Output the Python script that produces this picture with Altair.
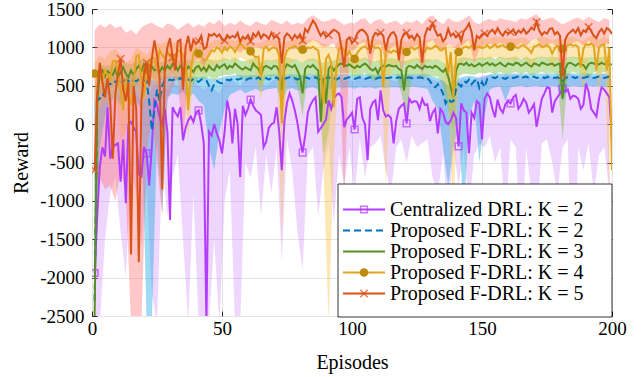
import altair as alt
import pandas as pd

# ---------------- data ----------------
EPISODES = list(range(1, 201))

CENTRALIZED = [
    -1940, -1200, -560, -300, -420, 220, -450, -300, -270, -250,
    -750, -200, -1030, 0, 30, -40, -100, -650, -680, -300,
    -380, -800, -300, 310, 250, 90, 0, 200, -100, -1250,
    220, 150, 100, 220, -210, -50, 50, 100, 30, 150,
    180, 0, -250, -2600, -100, -150, 0, -120, -210, -380,
    -100, 310, 150, -250, 200, 0, -690, 240, 120, 200,
    320, 240, 180, 150, 120, -300, -230, -50, 0, 20,
    220, -100, -600, 40, 280, 400, 310, 180, 20, -200,
    -370, -150, 150, 250, 310, 350, -100, -50, 0, 60,
    310, 200, 330, 380, 400, 350, -40, 60, 100, 150,
    -70, 330, 350, 80, 0, -470, 200, 280, 310, 50,
    440, 180, 100, 120, 80, -250, 40, 200, 240, 270,
    10, 330, 280, 300, 290, 200, 330, 250, 260, 40,
    150, 200, -120, 200, 150, 30, 0, 50, 150, 80,
    -290, 270, 180, 150, -380, 150, 80, 300, 270, -200,
    330, 400, 350, 200, 90, 320, 200, 150, 260, 300,
    270, 350, 380, 200, 250, 330, 280, 150, 200, 260,
    -35, 150, 330, 400, 480, 470, 150, 300, 350, 400,
    465, 420, 450, 330, 370, 360, 330, 200, 250, 530,
    420, 200, 150, 100, 330, 480, 450, 400, 350, -250,
]
FDRL_K2 = [
    -2300, 300, 340, 330, 480, 530, 520, 560, 550, 570,
    540, 560, 580, 560, 590, 570, 560, 580, 590, 570,
    560, 300, -80, 180, 450, 300, 500, 570, 560, 580,
    570, 590, 580, 600, 570, 590, 580, 560, 590, 570,
    550, 580, 590, 570, 500, 440, 520, 560, 540, 530,
    560, 580, 570, 590, 600, 580, 590, 600, 570, 590,
    600, 580, 590, 610, 580, 590, 600, 580, 600, 590,
    610, 580, 560, 590, 600, 610, 590, 600, 580, 600,
    590, 610, 600, 590, 600, 610, 590, 570, 590, 600,
    610, 590, 600, 580, 600, 610, 590, 600, 610, 600,
    590, 600, 610, 600, 590, 600, 610, 600, 590, 600,
    610, 590, 600, 600, 610, 590, 600, 610, 600, 590,
    600, 610, 600, 590, 600, 610, 600, 590, 600, 560,
    500, 480, 520, 470, 400, 270, 330, 290, 300, 450,
    520, 490, 560, 540, 580, 520, 560, 590, 470, 550,
    480, 590, 600, 610, 600, 620, 610, 600, 590, 610,
    620, 600, 610, 620, 600, 610, 620, 600, 610, 620,
    600, 610, 620, 600, 610, 620, 610, 600, 610, 590,
    560, 600, 610, 620, 610, 600, 620, 610, 600, 610,
    620, 610, 600, 610, 620, 610, 600, 610, 620, 610,
]
FDRL_K3 = [
    -2500, 300, 650, 700, 620, 690, 660, 640, 720, 600,
    680, 740, 660, 610, 700, 640, 720, 760, 690, 780,
    730, 790, 750, 700, 720, 680, 740, 700, 760, 720,
    780, 770, 700, 760, 730, 690, 750, 720, 680, 740,
    760, 700, 740, 690, 760, 720, 700, 770, 730, 760,
    780, 720, 760, 740, 790, 760, 730, 710, 740, 720,
    700, 790, 750, 720, 640, 740, 760, 740, 720, 760,
    750, 700, 440, 720, 780, 760, 740, 770, 700, 620,
    400, 720, 760, 740, 770, 730, 700, 30, 600, 270,
    720, 760, 700, 740, 780, 790, 770, 760, 780, 750,
    730, 760, 740, 770, 790, 760, 720, 700, 730, 660,
    740, 760, 750, 770, 760, 750, 760, 720, 700, 440,
    730, 760, 750, 730, 770, 740, 720, 760, 740, 750,
    730, 760, 740, 710, 680, 720, 620, 480, 350, 700,
    780, 790, 770, 800, 760, 780, 750, 770, 790, 760,
    780, 800, 770, 790, 760, 780, 800, 770, 750, 790,
    780, 770, 800, 790, 760, 780, 800, 770, 750, 790,
    780, 760, 800, 790, 770, 780, 790, 760, 780, 790,
    330, 720, 790, 800, 780, 760, 790, 780, 770, 720,
    780, 800, 790, 770, 780, 800, 780, 790, 770, 780,
]
FDRL_K4 = [
    660, 600, 720, 560, 700, 640, 580, 820, 830, 650,
    450, 180, 600, 400, 250, 550, 880, 900, 600, 350,
    710, 780, 870, 860, 700, 960, 900, 850, 950, 880,
    920, 820, 950, 960, 900, 790, 180, 700, 920, 980,
    920, 880, 830, 840, 900, 960, 950, 1000, 980, 930,
    1000, 960, 1010, 990, 940, 1000, 1050, 1020, 980, 1000,
    950, 900, 870, 880, 610, 980, 1010, 960, 990, 1000,
    980, 900, 10, 850, 960, 990, 1000, 1020, 990, 960,
    970, 950, 1000, 990, 1010, 980, 960, 700, 270, 850,
    900, 800, 220, 750, 980, 1000, 960, 900, 950, 880,
    850, 930, 970, 1000, 1010, 980, 1000, 1020, 990, 1000,
    970, 480, 960, 950, 930, 960, 940, 980, 1000, 960,
    940, 980, 1000, 970, 990, 1010, 960, 940, 1000, 980,
    990, 1020, 1000, 960, 980, 990, 660, 940, 350, 880,
    940, 970, 1000, 1010, 990, 1020, 980, 1000, 1010, 990,
    1000, 1030, 990, 1010, 1040, 1000, 1020, 1030, 1000, 1010,
    1010, 1030, 1000, 990, 1020, 1030, 1000, 970, 930, 1010,
    1020, 1040, 1000, 1010, 1030, 1000, 920, 990, 1020, 1000,
    980, 1010, 1030, 1040, 1020, 1030, 1000, 740, 980, 1040,
    1030, 1050, 1020, 700, 1000, 1030, 1040, 700, 1000, -600,
]
FDRL_K5 = [
    -600, 400, 800, 550, 350, 600, 300, -450, 400, 650,
    850, 450, 300, 550, -1700, 500, 200, -1800, 300, 650,
    800, 500, 850, 1090, 900, 600, -850, 750, 1000, 1120,
    870, 700, 1080, 1100, 450, 1000, 1150, 950, 1100, 1050,
    1080, 1150, 980, 1000, 1170, 1150, 1180, 1140, 1170, 1100,
    1090, 1160, 1120, 1150, 1130, 1190, 1070, 1140, 1110, 1160,
    1080, 1180, 1140, 1200, 1120, 1170, 1150, 1110, 1190, 1130,
    1150, 1100, 790, 1130, 1180, 1150, 1100, 1160, 1120, 1170,
    1090, 1240, 1200, 1280, 1350, 1300, 1220, 1150, 1200, 1140,
    1160, 1200, 1230, 1210, 1180, 980, 740, 1100, 1130, 1060,
    1090, 1180, 1220, 1230, 1200, 1150, 920, 1130, 1190, 1170,
    1190, 1150, 960, 1120, 1180, 1200, 1140, 830, 1100, 1180,
    1190, 1120, 1150, 1100, 1170, 1130, 800, 1150, 1250, 1230,
    1310, 1220, 1150, 1170, 1080, 1120, 1240, 1150, 1180, 1130,
    1170, 1080, 1210, 1250, 1310, 1200, 960, 1150, 1120, 1170,
    1180, 1150, 1200, 1230, 1180, 1250, 1190, 1150, 1210, 1180,
    1200, 1230, 1170, 1220, 1190, 1240, 1180, 1210, 1260, 1230,
    1330, 1220, 1160, 1200, 1180, 1240, 1250, 1170, 1200, 1150,
    640, 1100, 1170, 1200, 1230, 1190, 1250, 1160, 1220, 1200,
    1265, 1210, 1150, 1120, 1200, 1240, 1180, 1250, 1230, 1170,
]

# shaded spread bands, read every second episode
BAND_EPISODES = list(range(1, 200, 2))

CENTRALIZED_LO = [
    -2600, -2600, -1500, -900, -700, -1400, -2000, -600, -900, -1600,
    -800, -2200, -2600, -500, -1200, -700, -400, -1500, -2600, -900,
    -2600, -2600, -2600, -1500, -2600, -1000, -600, -2600, -2600, -500,
    -700, -300, -1200, -400, -900, -300, -1800, -200, -600, -1400,
    -1900, -400, -300, -1200, -600, -250, -1300, -400, -800, -300,
    -900, -200, -700, -300, -250, -150, -600, -900, -300, -200,
    -500, -150, -300, -250, -200, -700, -900, -400, -1200, -300,
    -800, -300, -1100, -400, -250, -300, -150, -500, -300, -1200,
    -200, -300, -1600, -300, -900, -1400, -250, -200, -500, -900,
    -300, -200, -2600, -300, -600, -250, -900, -400, -300, -900,
]
CENTRALIZED_HI = [
    -1000, 200, 500, 400, 300, 400, 200, 450, 400, 300,
    350, 450, 550, 500, 450, 550, 500, 450, 500, 550,
    500, 450, 500, 450, 400, 550, 600, 550, 500, 600,
    620, 580, 550, 500, 560, 600, 500, 620, 640, 560,
    500, 600, 640, 560, 500, 620, 640, 650, 550, 580,
    560, 640, 580, 600, 620, 650, 600, 580, 560, 620,
    580, 640, 640, 640, 620, 580, 560, 580, 500, 560,
    560, 600, 560, 580, 620, 640, 640, 600, 620, 640,
    640, 650, 620, 640, 600, 560, 620, 660, 600, 640,
    660, 660, 640, 620, 660, 660, 600, 640, 660, 640,
]
K2_LO = [
    -2600, -300, 100, 300, 350, 250, 400, 380, 300, 200,
    -2600, -2600, -200, -1160, 350, 400, 380, 420, 350, 400,
    300, 250, -300, -600, -100, 200, 380, 420, 450, 400,
    430, 460, 420, 450, 460, 470, 300, 450, 470, 440,
    430, 470, 480, 450, 400, 460, 450, 480, 470, 480,
    460, 480, 470, 480, 460, 480, 470, 480, 480, 470,
    480, 490, 480, 470, 460, 300, 200, -300, -800, -300,
    0, -1200, 100, 300, -500, 100, 450, 480, 490, 300,
    480, 490, 500, 480, 490, 500, 480, 490, 500, 480,
    300, 480, 500, 490, 480, 500, 490, 500, 480, 490,
]
K2_HI = [
    300, 450, 580, 600, 620, 600, 620, 630, 610, 620,
    610, 580, 560, 600, 620, 630, 620, 640, 630, 620,
    610, 620, 600, 580, 600, 620, 630, 640, 640, 630,
    640, 640, 630, 640, 650, 650, 620, 650, 650, 640,
    640, 650, 650, 640, 630, 650, 640, 650, 650, 650,
    640, 650, 650, 650, 640, 650, 650, 650, 650, 650,
    650, 650, 650, 650, 650, 620, 600, 560, 500, 480,
    600, 620, 630, 620, 600, 620, 650, 660, 660, 650,
    660, 660, 660, 660, 660, 660, 660, 660, 660, 660,
    640, 660, 660, 660, 660, 660, 660, 660, 660, 660,
]
K3_LO = [
    -2600, 400, 450, 480, 500, 450, 480, 430, 500, 550,
    560, 600, 550, 580, 600, 640, 560, 600, 580, 520,
    600, 580, 620, 570, 620, 640, 640, 660, 600, 600,
    580, 620, 450, 630, 610, 640, 100, 650, 620, 500,
    100, 640, 650, 500, -400, -100, 580, 660, 670, 660,
    620, 630, 670, 600, 560, 620, 640, 650, 640, 400,
    100, 640, 650, 600, 630, 620, 620, 500, 200, -100,
    620, 660, 650, 640, 670, 660, 680, 650, 680, 640,
    660, 680, 650, 680, 640, 660, 680, 660, 670, 650,
    -210, 640, 680, 660, 650, 600, 680, 660, 680, 660,
]
K3_HI = [
    500, 780, 760, 770, 800, 790, 800, 780, 820, 840,
    830, 850, 820, 810, 840, 850, 830, 820, 840, 810,
    830, 820, 850, 830, 840, 860, 840, 870, 830, 820,
    850, 860, 800, 840, 830, 850, 800, 870, 850, 840,
    800, 850, 860, 830, 800, 820, 830, 860, 870, 860,
    840, 850, 870, 830, 820, 840, 850, 860, 850, 820,
    830, 850, 860, 840, 850, 840, 850, 800, 780, 760,
    860, 870, 860, 850, 870, 860, 880, 850, 880, 860,
    870, 880, 850, 880, 850, 870, 880, 870, 880, 870,
    840, 870, 880, 870, 860, 870, 880, 870, 880, 870,
]
K4_LO = [
    300, 200, 300, 250, 400, -200, -100, 0, 600, 100,
    450, 600, 500, 650, 700, 650, 750, 650, -200, 600,
    700, 650, 700, 780, 800, 830, 850, 800, 870, 830,
    780, 700, 300, 820, 820, 800, -1500, 700, 820, 840,
    800, 820, 840, 780, -500, -2600, -400, 780, 800, 760,
    650, 800, 840, 820, 830, 780, -800, 780, 770, 820,
    760, 820, 830, 780, 820, 830, 850, 800, 300, -1200,
    720, 830, 840, 820, 850, 840, 850, 870, 860, 840,
    830, 830, 860, 840, 700, 850, 870, 860, 700, 850,
    820, 860, 870, 830, 400, 870, 880, 400, 860, -1000,
]
K4_HI = [
    800, 900, 850, 950, 980, 900, 800, 850, 1000, 950,
    900, 1000, 1050, 1050, 1080, 1050, 1080, 1060, 1000, 1080,
    1050, 1000, 1050, 1090, 1100, 1080, 1110, 1080, 1130, 1100,
    1080, 1050, 1060, 1100, 1090, 1100, 1050, 1080, 1100, 1110,
    1090, 1100, 1110, 1080, 1050, 1030, 1000, 1090, 1100, 1060,
    1040, 1080, 1110, 1100, 1110, 1090, 1070, 1060, 1080, 1100,
    1070, 1100, 1110, 1080, 1100, 1110, 1120, 1090, 1050, 1000,
    1060, 1100, 1110, 1100, 1120, 1110, 1120, 1140, 1130, 1120,
    1120, 1110, 1130, 1120, 1060, 1120, 1140, 1130, 1080, 1120,
    1100, 1130, 1140, 1110, 1080, 1140, 1150, 1100, 1140, 1110,
]
K5_LO = [
    -900, -700, -850, -800, -1000, -600, -900, -2600, -2600, -2600,
    -400, 100, -500, -1200, 300, 500, 600, -300, 700, 800,
    850, 750, 900, 1000, 980, 950, 1000, 970, 930, 990,
    960, 1010, 980, 1000, 1020, 980, 550, 1000, 970, 990,
    950, 1050, 1100, 1060, 1000, 1020, 1050, 900, -990, 950,
    970, 1050, 1070, 700, 1020, 1040, 800, 1000, 1020, 650,
    1000, 990, 1030, 600, 1060, 1100, 1000, 940, 1050, 1000,
    980, 1040, 1100, 800, 980, 1030, 1050, 1020, 1060, 1030,
    1050, 1000, 1060, 1020, 1080, 1120, 1000, 1030, 1060, 1000,
    350, 1000, 1060, 1080, 1020, 1090, 1030, 980, 1050, 1040,
]
K5_HI = [
    1220, 1300, 1260, 1310, 1250, 1280, 1190, 1230, 1170, 1260,
    1300, 1320, 1280, 1250, 1310, 1290, 1230, 1280, 1320, 1260,
    1300, 1270, 1330, 1300, 1360, 1280, 1320, 1290, 1350, 1300,
    1280, 1340, 1310, 1290, 1360, 1330, 1300, 1350, 1290, 1320,
    1300, 1380, 1420, 1370, 1330, 1350, 1380, 1340, 1290, 1320,
    1310, 1360, 1380, 1300, 1350, 1370, 1300, 1330, 1350, 1290,
    1340, 1320, 1360, 1300, 1390, 1420, 1350, 1300, 1380, 1340,
    1330, 1370, 1420, 1330, 1300, 1350, 1370, 1340, 1380, 1360,
    1350, 1330, 1380, 1360, 1400, 1430, 1350, 1370, 1390, 1340,
    1300, 1330, 1370, 1390, 1350, 1400, 1360, 1330, 1380, 1360,
]

SERIES_NAMES = [
    "Centralized DRL: K = 2",
    "Proposed F-DRL: K = 2",
    "Proposed F-DRL: K = 3",
    "Proposed F-DRL: K = 4",
    "Proposed F-DRL: K = 5",
]
MARKER_EPISODES_20 = list(range(1, 200, 20))
MARKER_EPISODES_10 = list(range(1, 200, 10))
X_TICKS = [0, 50, 100, 150, 200]
Y_TICKS = [-2500, -2000, -1500, -1000, -500, 0, 500, 1000, 1500]

# ---------------- styles ----------------
FONT = "Liberation Serif, DejaVu Serif, Times New Roman, serif"
LINE_COLORS = ["#B43CFF", "#0072BD", "#5B8E23", "#E3A41E", "#D95319"]
BAND_COLORS = ["#C060FF", "#1AA7E0", "#7CC142", "#F7C440", "#FF6B6B"]
BAND_OPAC = [0.26, 0.42, 0.45, 0.40, 0.38]
DASHES = [[1, 0], [7, 4], [1, 0], [1, 0], [1, 0]]
CROSS = "M-1,-1L1,1M-1,1L1,-1"
CIRCLE_FILL = "#BC8A0E"

xscale = alt.Scale(domain=[0, 200], nice=False, zero=False)
yscale = alt.Scale(domain=[-2500, 1500], nice=False, zero=False)

tick_style = dict(tickSize=5, tickColor="#262626", tickWidth=1, offset=-5, domain=False)

x_axis_main = alt.Axis(values=X_TICKS, grid=True, gridColor="#E4E4E4", gridWidth=1,
                       labelFont=FONT, labelFontSize=19, labelColor="black", labelPadding=3,
                       labelFlush=False, title="Episodes", titleFont=FONT, titleFontSize=20,
                       titleFontWeight="normal", titleColor="black", titlePadding=14, **tick_style)
y_axis_main = alt.Axis(values=Y_TICKS, grid=True, gridColor="#E4E4E4", gridWidth=1,
                       labelFont=FONT, labelFontSize=19, labelColor="black", labelPadding=8,
                       labelFlush=False, labelExpr="'' + datum.value",
                       title="Reward", titleFont=FONT, titleFontSize=20,
                       titleFontWeight="normal", titleColor="black", titlePadding=8, **tick_style)
x_axis_top = alt.Axis(values=X_TICKS, orient="top", grid=False, labels=False, title=None, **tick_style)
y_axis_right = alt.Axis(values=Y_TICKS, orient="right", grid=False, labels=False, title=None, **tick_style)


def line_df(vals):
    return pd.DataFrame({"episode": EPISODES, "reward": vals})


def band_df(lo, hi):
    return pd.DataFrame({"episode": BAND_EPISODES, "lo": lo, "hi": hi})


series_vals = [CENTRALIZED, FDRL_K2, FDRL_K3, FDRL_K4, FDRL_K5]
band_vals = [(CENTRALIZED_LO, CENTRALIZED_HI), (K2_LO, K2_HI), (K3_LO, K3_HI),
             (K4_LO, K4_HI), (K5_LO, K5_HI)]

layers = []
for i, (lo, hi) in enumerate(band_vals):
    if i == 0:
        xa, ya = x_axis_main, y_axis_main
    elif i == 1:
        xa, ya = x_axis_top, y_axis_right
    else:
        xa, ya = None, None
    layers.append(
        alt.Chart(band_df(lo, hi)).mark_area(clip=True, color=BAND_COLORS[i], opacity=BAND_OPAC[i])
        .encode(x=alt.X("episode:Q", scale=xscale, axis=xa),
                y=alt.Y("lo:Q", scale=yscale, axis=ya),
                y2="hi:Q")
    )

for i, vals in enumerate(series_vals):
    mk = dict(clip=True, color=LINE_COLORS[i], strokeWidth=2)
    if i == 1:
        mk["strokeDash"] = DASHES[1]
    base = alt.Chart(line_df(vals))
    enc = dict(x=alt.X("episode:Q", scale=xscale, axis=None),
               y=alt.Y("reward:Q", scale=yscale, axis=None))
    layers.append(base.mark_line(**mk).encode(**enc))
    if i == 0:
        layers.append(base.mark_point(clip=True, shape="square", filled=False, size=45, strokeWidth=1.5,
                                      color=LINE_COLORS[0])
                      .transform_filter(alt.FieldOneOfPredicate(field="episode", oneOf=MARKER_EPISODES_20))
                      .encode(**enc))
    if i == 3:
        layers.append(base.mark_point(clip=True, shape="circle", filled=True, size=75, opacity=1,
                                      color=CIRCLE_FILL)
                      .transform_filter(alt.FieldOneOfPredicate(field="episode", oneOf=MARKER_EPISODES_20))
                      .encode(**enc))
    if i == 4:
        layers.append(base.mark_point(clip=True, shape=CROSS, filled=False, size=55, strokeWidth=1.6,
                                      color=LINE_COLORS[4])
                      .transform_filter(alt.FieldOneOfPredicate(field="episode", oneOf=MARKER_EPISODES_10))
                      .encode(**enc))

data_layer = alt.layer(*layers).resolve_axis(x="independent", y="independent")

# ---------------- legend (inside plot, bottom-right) ----------------
LEG = pd.DataFrame({"label": SERIES_NAMES})
leg_y = alt.Y("label:N", scale=alt.Scale(domain=SERIES_NAMES, range=[190, 295], padding=0), axis=None)
leg_color = alt.Color("label:N", scale=alt.Scale(domain=SERIES_NAMES, range=LINE_COLORS), legend=None)

box = alt.Chart(pd.DataFrame({"k": [0]})).mark_rect(fill="white", stroke="black", strokeWidth=0.8).encode(
    x=alt.value(246), x2=alt.value(520), y=alt.value(175), y2=alt.value(308))
samples = alt.Chart(LEG).mark_rule(strokeWidth=2).encode(
    x=alt.value(251), x2=alt.value(293), y=leg_y, color=leg_color,
    strokeDash=alt.StrokeDash("label:N", scale=alt.Scale(domain=SERIES_NAMES, range=DASHES), legend=None))
leg_sq = alt.Chart(LEG).transform_filter(alt.datum.label == SERIES_NAMES[0]).mark_point(
    shape="square", filled=False, size=45, strokeWidth=1.5, color=LINE_COLORS[0]).encode(x=alt.value(272), y=leg_y)
leg_ci = alt.Chart(LEG).transform_filter(alt.datum.label == SERIES_NAMES[3]).mark_point(
    shape="circle", filled=True, size=75, opacity=1, color=CIRCLE_FILL).encode(x=alt.value(272), y=leg_y)
leg_cr = alt.Chart(LEG).transform_filter(alt.datum.label == SERIES_NAMES[4]).mark_point(
    shape=CROSS, filled=False, size=55, strokeWidth=1.6, color=LINE_COLORS[4]).encode(x=alt.value(272), y=leg_y)
leg_txt = alt.Chart(LEG).mark_text(align="left", baseline="middle", font=FONT, fontSize=20, color="black").encode(
    x=alt.value(298), y=leg_y, text="label:N")

legend_layer = alt.layer(box, samples, leg_sq, leg_ci, leg_cr, leg_txt)

chart = (
    alt.layer(data_layer, legend_layer)
    .resolve_scale(y="independent")
    .properties(width=520, height=307, autosize=alt.AutoSizeParams(type="none"),
                padding={"left": 92, "top": 9, "right": 32, "bottom": 61})
    .configure(background="white")
    .configure_view(stroke="#262626", strokeWidth=1)
)

chart.save("out.html", embed_options={"renderer": "svg", "actions": False})
